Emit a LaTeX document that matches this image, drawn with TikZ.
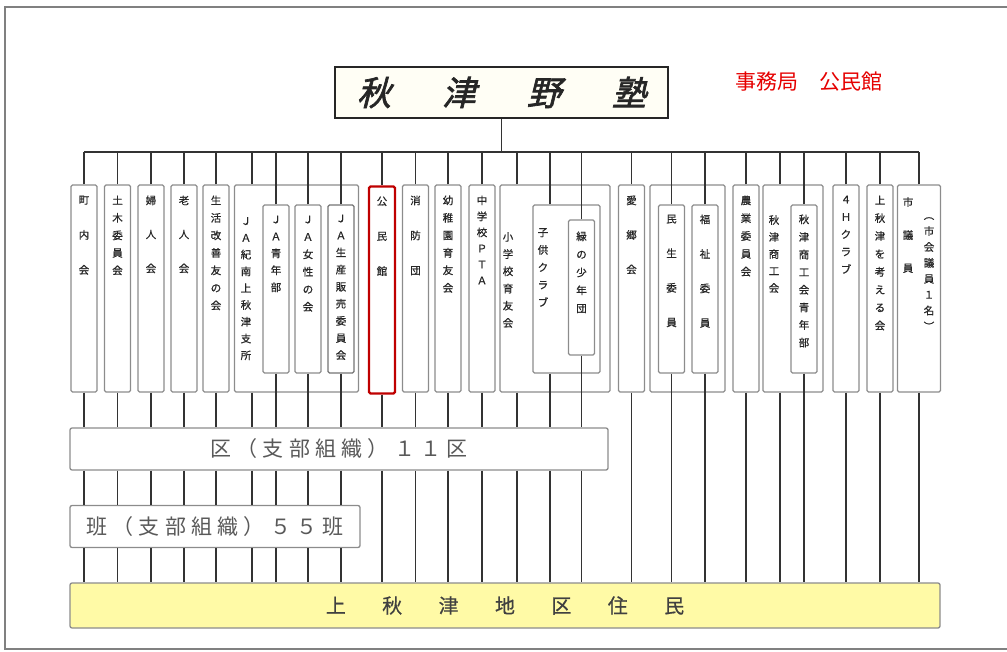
\documentclass[tikz,border=0pt]{standalone}
\usepackage{fontspec}
\newfontfamily\jp{Noto Sans CJK JP}
\newfontfamily\jpv[FakeBold=0.8]{Noto Sans CJK JP}
\newfontfamily\jptitle[FakeSlant=0.25,FakeBold=2,LetterSpace=25]{Noto Sans CJK JP}
\newfontfamily\jpku[LetterSpace=25]{Noto Sans CJK JP}
\newfontfamily\jpres[LetterSpace=41,FakeBold=0.6]{Noto Sans CJK JP}
\tikzset{
  ln/.style={draw=black!80, line width=1.4pt},
  frameline/.style={draw=black!50, line width=1.6pt},
  ob/.style={draw=black!45, line width=1.3pt, rounded corners=1.5pt, inner sep=0pt, minimum width=26pt},
  redbox/.style={ob, draw=red!75!black, line width=2.2pt},
  vt/.style={inner sep=0pt, align=center, text=black!85, anchor=north, font=\jpv\fontsize{10.5}{17.5}\selectfont},
  vtw/.style={vt, font=\jpv\fontsize{10.5}{35}\selectfont},
  wide/.style={draw=black!45, line width=1.3pt, rounded corners=2pt, fill=white, inner sep=0pt, text=black!65},
  titlebox/.style={draw=black!85, line width=2.5pt, fill=yellow!4, inner sep=0pt, minimum width=333pt, minimum height=51pt, text=black!85, font=\jptitle\fontsize{34}{34}\selectfont},
}
\begin{document}
\begin{tikzpicture}[x=1pt,y=-1pt]
\useasboundingbox (0,0) rectangle (1007,652);
\draw[frameline] (1007,7) -- (5,7) -- (5,649) -- (1007,649);
\coordinate (bus) at (0,152);

% title
\node[titlebox] (title) at (501.5,92.5) {秋　津　野　塾};
\node[inner sep=0pt, text=red!90!black, font=\jp\fontsize{21}{21}\selectfont] (jimu) at (809,82) {事務局　公民館};

% simple boxes
\node[ob, minimum height=207pt] (b1) at (84,288.5) {};
\node[ob, minimum height=207pt] (b2) at (117.5,288.5) {};
\node[ob, minimum height=207pt] (b3) at (151,288.5) {};
\node[ob, minimum height=207pt] (b4) at (184,288.5) {};
\node[ob, minimum height=207pt] (b5) at (216,288.5) {};
% JA group
\node[ob, minimum width=124pt, minimum height=207pt] (gJA) at (296.5,288.5) {};
\node[ob, minimum height=168pt] (jaY) at (276,289) {};
\node[ob, minimum height=168pt] (jaW) at (308,289) {};
\node[ob, minimum height=168pt, draw=black!55] (jaS) at (341,289) {};
% kominkan etc
\node[redbox, minimum height=207pt] (kom) at (382,290) {};
\node[ob, minimum height=207pt] (sho) at (415.5,288.5) {};
\node[ob, minimum height=207pt] (yo) at (448,288.5) {};
\node[ob, minimum height=207pt] (chu) at (482,288.5) {};
% shogakko group
\node[ob, minimum width=110pt, minimum height=207pt] (gSH) at (555,288.5) {};
\node[ob, minimum width=67pt, minimum height=168pt] (ko) at (566.5,289) {};
\node[ob, minimum height=135pt] (mid) at (581.5,287.5) {};
\node[ob, minimum height=207pt] (ai) at (631.5,288.5) {};
% minsei group
\node[ob, minimum width=75pt, minimum height=207pt] (gMin) at (687.5,288.5) {};
\node[ob, minimum height=168pt] (min) at (671.5,289) {};
\node[ob, minimum height=168pt] (fuku) at (705,289) {};
\node[ob, minimum height=207pt] (no) at (746,288.5) {};
% shokokai group
\node[ob, minimum width=60pt, minimum height=207pt] (gSK) at (793,288.5) {};
\node[ob, minimum height=168pt] (sei) at (804,289) {};
\node[ob, minimum height=207pt] (fourh) at (846,288.5) {};
\node[ob, minimum height=207pt] (kan) at (880,288.5) {};
\node[ob, minimum width=43pt, minimum height=207pt] (giin) at (919,288.5) {};

% labels
\node[vtw] (t1) at ([yshift=-11pt]b1.north) {町\\内\\会};
\node[vt] (t2) at ([yshift=-11pt]b2.north) {土\\木\\委\\員\\会};
\node[vtw, font=\jpv\fontsize{10.5}{34}\selectfont] (t3) at ([yshift=-11pt]b3.north) {婦\\人\\会};
\node[vtw, font=\jpv\fontsize{10.5}{34}\selectfont] (t4) at ([yshift=-11pt]b4.north) {老\\人\\会};
\node[vt] (t5) at ([yshift=-11pt]b5.north) {生\\活\\改\\善\\友\\の\\会};
\node[vt, font=\jpv\fontsize{10.5}{16.8}\selectfont] (tJA) at (246,217) {Ｊ\\Ａ\\紀\\南\\上\\秋\\津\\支\\所};
\node[vt, font=\jpv\fontsize{10.5}{17}\selectfont] (tY) at ([yshift=-11pt]jaY.north) {Ｊ\\Ａ\\青\\年\\部};
\node[vt] (tW) at ([yshift=-11pt]jaW.north) {Ｊ\\Ａ\\女\\性\\の\\会};
\node[vt, font=\jpv\fontsize{10.5}{17.1}\selectfont] (tS) at ([yshift=-10pt]jaS.north) {Ｊ\\Ａ\\生\\産\\販\\売\\委\\員\\会};
\node[vtw] (tk) at ([yshift=-11pt]kom.north) {公\\民\\館};
\node[vtw] (tsho) at ([yshift=-11pt]sho.north) {消\\防\\団};
\node[vt] (tyo) at ([yshift=-11pt]yo.north) {幼\\稚\\園\\育\\友\\会};
\node[vt, font=\jpv\fontsize{10.5}{16}\selectfont] (tchu) at ([yshift=-11pt]chu.north) {中\\学\\校\\Ｐ\\Ｔ\\Ａ};
\node[vt, font=\jpv\fontsize{10.5}{17.2}\selectfont] (tsh) at (508,232) {小\\学\\校\\育\\友\\会};
\node[vt] (tko) at (543,228) {子\\供\\ク\\ラ\\ブ};
\node[vt, font=\jpv\fontsize{10.5}{18}\selectfont] (tmid) at ([yshift=-12pt]mid.north) {緑\\の\\少\\年\\団};
\node[vtw, font=\jpv\fontsize{10.5}{34.5}\selectfont] (tai) at ([yshift=-11pt]ai.north) {愛\\郷\\会};
\node[vtw, font=\jpv\fontsize{10.5}{34.5}\selectfont] (tmin) at ([yshift=-10pt]min.north) {民\\生\\委\\員};
\node[vtw, font=\jpv\fontsize{10.5}{34.5}\selectfont] (tfuku) at ([yshift=-10pt]fuku.north) {福\\祉\\委\\員};
\node[vt, font=\jpv\fontsize{10.5}{17.8}\selectfont] (tno) at ([yshift=-11pt]no.north) {農\\業\\委\\員\\会};
\node[vt, font=\jpv\fontsize{10.5}{17}\selectfont] (tsk) at (774,215) {秋\\津\\商\\工\\会};
\node[vt, font=\jpv\fontsize{10.5}{17.6}\selectfont] (tsei) at ([yshift=-10pt]sei.north) {秋\\津\\商\\工\\会\\青\\年\\部};
\node[vt] (tfh) at ([yshift=-11pt]fourh.north) {４\\Ｈ\\ク\\ラ\\ブ};
\node[vt, font=\jpv\fontsize{10.5}{17.9}\selectfont] (tkan) at ([yshift=-11pt]kan.north) {上\\秋\\津\\を\\考\\え\\る\\会};
\node[vt, font=\jpv\fontsize{10.5}{33}\selectfont] (tg1) at (908,197) {市\\議\\員};
\node[vt, font=\jpv\fontsize{10.5}{15.9}\selectfont] (tg2) at (929,217) {︵\\市\\会\\議\\員\\１\\名\\︶};

% lower boxes
\node[wide, minimum width=538pt, minimum height=42pt, font=\jpku\fontsize{21}{21}\selectfont] (ku) at (339,449) {区（支部組織）１１区};
\node[wide, minimum width=290pt, minimum height=42pt, font=\jpku\fontsize{21}{21}\selectfont] (han) at (215,526.5) {班（支部組織）５５班};
\node[wide, fill=yellow!35, minimum width=870pt, minimum height=45pt, text=black!75, font=\jpres\fontsize{20}{20}\selectfont] (res) at (505,605.5) {上　秋　津　地　区　住　民};

% group connector points
\path (gJA.north) ++(-44.5,0) coordinate (cJAt);
\path (gJA.south) ++(-44.5,0) coordinate (cJAb);
\path (gSH.north) ++(-38,0) coordinate (cSHt);
\path (gSH.south) ++(-38,0) coordinate (cSHb);
\path (ko.north) ++(-16.5,0) coordinate (cKot);
\path (ko.south) ++(-16.5,0) coordinate (cKob);
\path (gSK.north) ++(-13,0) coordinate (cSKt);
\path (gSK.south) ++(-13,0) coordinate (cSKb);

% bus and trunk
\draw[ln] (title.south) -- (title.south |- bus);
\draw[ln] (b1.north |- bus) -- (giin.north |- bus);
\foreach \n in {b1.north,b2.north,b3.north,b4.north,b5.north,cJAt,jaY.north,jaW.north,jaS.north,kom.north,sho.north,yo.north,chu.north,cSHt,cKot,mid.north,ai.north,min.north,fuku.north,no.north,cSKt,sei.north,fourh.north,kan.north,giin.north}
  \draw[ln] (\n) -- (\n |- bus);

% downward lines
\foreach \n in {b1.south,b2.south,b3.south,b4.south,b5.south,cJAb,jaY.south,jaW.south,jaS.south}
  \draw[ln] (\n) -- (\n |- ku.north) (\n |- ku.south) -- (\n |- han.north) (\n |- han.south) -- (\n |- res.north);
\foreach \n in {kom.south,sho.south,yo.south,chu.south,cSHb,cKob,mid.south}
  \draw[ln] (\n) -- (\n |- ku.north) (\n |- ku.south) -- (\n |- res.north);
\foreach \n in {ai.south,min.south,fuku.south,no.south,cSKb,sei.south,fourh.south,kan.south,giin.south}
  \draw[ln] (\n) -- (\n |- res.north);
\end{tikzpicture}
\end{document}
